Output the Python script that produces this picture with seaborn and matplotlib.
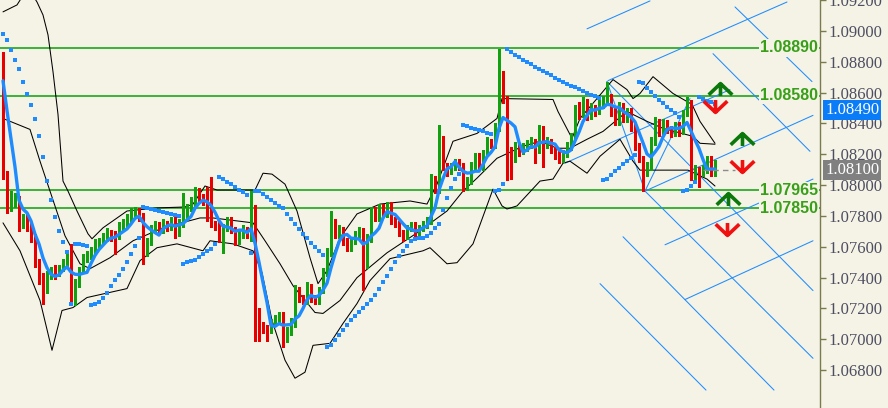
import numpy as np
import pandas as pd
import matplotlib
matplotlib.use('Agg')
import matplotlib.pyplot as plt
import matplotlib.transforms as mtransforms
from matplotlib.path import Path
import seaborn as sns

# ---- candle data (one value per bar) ----
first_open = 1.0881
closes = [
    1.0808, 1.0785, 1.0792, 1.0793, 1.0773, 1.0779, 1.0773, 1.0766, 1.0750, 1.0741,
    1.0734, 1.0741, 1.0745, 1.0743, 1.0746, 1.0749, 1.0752, 1.0728, 1.0736, 1.0745,
    1.0753, 1.0755, 1.0757, 1.0762, 1.0764, 1.0767, 1.0769, 1.0766, 1.0765, 1.0773,
    1.0776, 1.0778, 1.0782, 1.0783, 1.0780, 1.0756, 1.0764, 1.0772, 1.0774, 1.0772,
    1.0776, 1.0773, 1.0777, 1.0769, 1.0776, 1.0780, 1.0785, 1.0788, 1.0796, 1.0792,
    1.0790, 1.0780, 1.0776, 1.0774, 1.0765, 1.0772, 1.0777, 1.0772, 1.0764, 1.0769,
    1.0772, 1.0769, 1.0785, 1.0717, 1.0707, 1.0706, 1.0705, 1.0710, 1.0714, 1.0716,
    1.0701, 1.0706, 1.0711, 1.0732, 1.0726, 1.0725, 1.0734, 1.0726, 1.0725, 1.0732,
    1.0743, 1.0756, 1.0776, 1.0769, 1.0772, 1.0764, 1.0759, 1.0764, 1.0768, 1.0770,
    1.0748, 1.0765, 1.0783, 1.0779, 1.0785, 1.0781, 1.0786, 1.0778, 1.0775, 1.0770,
    1.0766, 1.0772, 1.0774, 1.0769, 1.0772, 1.0775, 1.0777, 1.0805, 1.0797, 1.0830,
    1.0812, 1.0809, 1.0811, 1.0814, 1.0812, 1.0799, 1.0803, 1.0812, 1.0819, 1.0812,
    1.0821, 1.0828, 1.0826, 1.0837, 1.0872, 1.0856, 1.0819, 1.0817, 1.0825, 1.0822,
    1.0824, 1.0826, 1.0828, 1.0823, 1.0836, 1.0826, 1.0828, 1.0823, 1.0820, 1.0817,
    1.0820, 1.0825, 1.0832, 1.0849, 1.0846, 1.0854, 1.0845, 1.0850, 1.0848, 1.0852,
    1.0855, 1.0857, 1.0848, 1.0841, 1.0851, 1.0843, 1.0848, 1.0838, 1.0825, 1.0817,
    1.0809, 1.0812, 1.0828, 1.0841, 1.0835, 1.0840, 1.0836, 1.0834, 1.0839, 1.0835,
    1.0846, 1.0849, 1.0806, 1.0810, 1.0808, 1.0810, 1.0817, 1.0807, 1.0810,
]
highs = [
    1.0886, 1.0809, 1.0796, 1.0795, 1.0793, 1.0781, 1.0781, 1.0776, 1.0768, 1.0752,
    1.0743, 1.0744, 1.0747, 1.0748, 1.0748, 1.0752, 1.0756, 1.0762, 1.0739, 1.0747,
    1.0755, 1.0757, 1.0760, 1.0765, 1.0766, 1.0769, 1.0772, 1.0771, 1.0770, 1.0776,
    1.0778, 1.0781, 1.0785, 1.0786, 1.0785, 1.0782, 1.0766, 1.0774, 1.0777, 1.0776,
    1.0778, 1.0777, 1.0779, 1.0779, 1.0778, 1.0795, 1.0788, 1.0792, 1.0799, 1.0798,
    1.0794, 1.0799, 1.0805, 1.0777, 1.0776, 1.0775, 1.0779, 1.0779, 1.0773, 1.0771,
    1.0774, 1.0773, 1.0796, 1.0787, 1.0720, 1.0711, 1.0709, 1.0713, 1.0716, 1.0718,
    1.0718, 1.0708, 1.0714, 1.0735, 1.0734, 1.0729, 1.0737, 1.0736, 1.0729, 1.0734,
    1.0746, 1.0759, 1.0783, 1.0778, 1.0774, 1.0773, 1.0766, 1.0766, 1.0770, 1.0773,
    1.0772, 1.0768, 1.0786, 1.0786, 1.0788, 1.0788, 1.0789, 1.0789, 1.0779, 1.0777,
    1.0771, 1.0774, 1.0776, 1.0776, 1.0774, 1.0777, 1.0779, 1.0807, 1.0806, 1.0839,
    1.0832, 1.0814, 1.0814, 1.0817, 1.0817, 1.0814, 1.0805, 1.0815, 1.0821, 1.0821,
    1.0823, 1.0831, 1.0830, 1.0840, 1.0888, 1.0874, 1.0858, 1.0825, 1.0828, 1.0827,
    1.0827, 1.0829, 1.0831, 1.0830, 1.0839, 1.0838, 1.0831, 1.0830, 1.0825, 1.0822,
    1.0823, 1.0828, 1.0834, 1.0852, 1.0854, 1.0857, 1.0856, 1.0853, 1.0852, 1.0855,
    1.0858, 1.0867, 1.0859, 1.0850, 1.0854, 1.0853, 1.0850, 1.0850, 1.0840, 1.0827,
    1.0819, 1.0815, 1.0831, 1.0844, 1.0843, 1.0843, 1.0842, 1.0838, 1.0841, 1.0841,
    1.0849, 1.0857, 1.0855, 1.0813, 1.0812, 1.0813, 1.0819, 1.0819, 1.0816,
]
lows = [
    1.0804, 1.0782, 1.0783, 1.0786, 1.0770, 1.0772, 1.0770, 1.0763, 1.0747, 1.0736,
    1.0723, 1.0730, 1.0739, 1.0739, 1.0741, 1.0744, 1.0747, 1.0725, 1.0722, 1.0734,
    1.0743, 1.0750, 1.0752, 1.0755, 1.0760, 1.0762, 1.0764, 1.0764, 1.0755, 1.0765,
    1.0771, 1.0773, 1.0776, 1.0779, 1.0777, 1.0749, 1.0754, 1.0761, 1.0770, 1.0769,
    1.0769, 1.0770, 1.0771, 1.0766, 1.0767, 1.0773, 1.0778, 1.0783, 1.0786, 1.0790,
    1.0787, 1.0777, 1.0773, 1.0771, 1.0763, 1.0756, 1.0770, 1.0769, 1.0761, 1.0762,
    1.0766, 1.0766, 1.0764, 1.0699, 1.0699, 1.0704, 1.0699, 1.0704, 1.0709, 1.0711,
    1.0695, 1.0698, 1.0703, 1.0708, 1.0724, 1.0723, 1.0723, 1.0724, 1.0723, 1.0723,
    1.0730, 1.0741, 1.0754, 1.0766, 1.0766, 1.0761, 1.0757, 1.0757, 1.0762, 1.0766,
    1.0732, 1.0746, 1.0763, 1.0777, 1.0777, 1.0779, 1.0779, 1.0775, 1.0773, 1.0767,
    1.0764, 1.0765, 1.0770, 1.0766, 1.0767, 1.0770, 1.0772, 1.0775, 1.0795, 1.0795,
    1.0810, 1.0806, 1.0807, 1.0810, 1.0810, 1.0796, 1.0797, 1.0801, 1.0810, 1.0810,
    1.0810, 1.0819, 1.0824, 1.0824, 1.0835, 1.0853, 1.0803, 1.0804, 1.0815, 1.0819,
    1.0820, 1.0822, 1.0824, 1.0814, 1.0821, 1.0812, 1.0824, 1.0821, 1.0817, 1.0814,
    1.0815, 1.0818, 1.0823, 1.0830, 1.0843, 1.0844, 1.0842, 1.0843, 1.0845, 1.0846,
    1.0850, 1.0853, 1.0845, 1.0839, 1.0839, 1.0841, 1.0841, 1.0835, 1.0823, 1.0815,
    1.0796, 1.0806, 1.0810, 1.0826, 1.0832, 1.0833, 1.0834, 1.0831, 1.0832, 1.0832,
    1.0833, 1.0845, 1.0803, 1.0804, 1.0799, 1.0806, 1.0808, 1.0806, 1.0806,
]
# closes just before the first visible bar (they feed the moving average)
ma_seed = [1.0882, 1.0884, 1.0883, 1.0881]

# ---- Bollinger band lines (bar index, price) ----
upper_idx = [0, 3.5, 4.75, 7.25, 8.5, 10, 11.25, 12.5, 13.75, 15, 16.25, 18.5, 21.25, 22.25,
             25, 31, 38.5, 45.5, 47.5, 50.5, 53.5, 63, 65, 67.25, 70.5, 73.5, 76.75, 78.75,
             81, 84.25, 88.5, 94.25, 101.75, 106, 108.5, 112.5, 118.5, 123.5, 124.75,
             137.5, 138.75, 142.25, 144.25, 148.5, 152.5, 156, 157.5, 159.25, 162.5,
             167.5, 172.25, 174.25, 178]
upper_px = [1.09123, 1.09168, 1.09219, 1.09239, 1.09187, 1.09103, 1.08974, 1.08735, 1.08458,
            1.08026, 1.07961, 1.07832, 1.07684, 1.07652, 1.07723, 1.07832, 1.07852, 1.07858,
            1.07877, 1.07994, 1.07968, 1.07968, 1.08077, 1.08071, 1.08006, 1.07832, 1.07529,
            1.07361, 1.07445, 1.07658, 1.07813, 1.07877, 1.07897, 1.07877, 1.08006, 1.08284,
            1.08335, 1.08432, 1.08561, 1.08555, 1.08477, 1.08303, 1.08432, 1.08561, 1.08684,
            1.08619, 1.08561, 1.08594, 1.08703, 1.08594, 1.08523, 1.08413, 1.08271]
mid_idx = [0, 6.75, 9.25, 11.75, 15.5, 19.25, 21.75, 26.75, 32.5, 40, 49.25, 52.5, 62.5,
           65.5, 69.25, 72.5, 78, 80, 84.25, 88.5, 96, 103.5, 111, 115, 118.5, 123.5, 130,
           134.25, 138.5, 141.75, 146, 150, 156, 161, 165, 172.5, 174.25, 178]
mid_px = [1.08432, 1.08361, 1.08155, 1.07961, 1.07671, 1.07490, 1.07458, 1.07529, 1.07639,
          1.07723, 1.07787, 1.07787, 1.07755, 1.07639, 1.07490, 1.07348, 1.07174, 1.07168,
          1.07252, 1.07400, 1.07561, 1.07690, 1.07832, 1.07961, 1.08045, 1.08174, 1.08252,
          1.08284, 1.08239, 1.08239, 1.08297, 1.08348, 1.08477, 1.08413, 1.08368, 1.08316,
          1.08271, 1.08265]
lower_idx = [0, 4.25, 9.25, 12.25, 14.75, 17.5, 21, 31, 34.25, 38.5, 43.5, 50, 51.75, 57.5,
             62.5, 64.75, 67.25, 70.5, 73, 75.5, 77.5, 81.75, 85, 88.5, 91.75, 96.75, 105,
             106.75, 111, 113.5, 117.5, 120.5, 122.5, 124.75, 126, 128.5, 134.25, 137.5,
             140, 141.75, 146, 149.25, 154.25, 157.5, 159.25, 171.25, 176, 178]
lower_px = [1.07755, 1.07574, 1.07252, 1.06929, 1.07187, 1.07206, 1.07271, 1.07329, 1.07510,
            1.07594, 1.07619, 1.07574, 1.07639, 1.07619, 1.07574, 1.07432, 1.07123, 1.06865,
            1.06748, 1.06787, 1.06961, 1.06974, 1.07103, 1.07232, 1.07381, 1.07523, 1.07574,
            1.07594, 1.07490, 1.07497, 1.07619, 1.07832, 1.07974, 1.07865, 1.07845, 1.07865,
            1.08026, 1.08039, 1.08142, 1.08155, 1.08077, 1.08187, 1.08297, 1.08155, 1.08097,
            1.08097, 1.08039, 1.07994]

# ---- horizontal levels ----
levels = [1.08890, 1.08580, 1.07965, 1.07850]
level_labels = ['1.08890', '1.08580', '1.07965', '1.07850']

# ---- trend lines: (start bar, start price, end bar, end price) ----
channel_lines = [
    (146, 1.09013, 161.75, 1.09194),
    (151.25, 1.08677, 196, 1.09187),
    (140.5, 1.08142, 181.75, 1.08619),
    (160.5, 1.07961, 202.5, 1.08452),
    (165.5, 1.07613, 202.5, 1.08039),
    (170.5, 1.07258, 202.5, 1.07639),
    (149.25, 1.07361, 175.75, 1.06671),
    (155, 1.07665, 192.75, 1.06671),
    (160.5, 1.07961, 202.5, 1.06877),
    (151, 1.08671, 202.5, 1.07316),
    (177.5, 1.08852, 201.75, 1.08219),
    (183, 1.09155, 202.25, 1.08671),
    (151, 1.08671, 160.5, 1.07961),
    (160.5, 1.07961, 171.75, 1.08561),
]

# ---- signal arrows ----
up_idx = [179.25, 184.75, 181.25]
up_px = [1.08626, 1.08297, 1.07910]
down_idx = [178, 184.75, 181]
down_px = [1.08510, 1.08123, 1.07716]

bid_price = 1.08100
ask_price = 1.08490
yticks = [1.068, 1.070, 1.072, 1.074, 1.076, 1.078, 1.080, 1.082, 1.084, 1.086, 1.088, 1.090, 1.092]

# colours
bg = '#F5F3E6'
bull = '#10A010'
bear = '#E80000'
blue = '#1E8CFF'
lvl_green = '#08A008'

sns.set_theme(style='white')
plt.rcParams['font.family'] = ['DejaVu Sans']

closes = np.array(closes)
highs = np.array(highs)
lows = np.array(lows)
opens = np.r_[first_open, closes[:-1]]
highs = np.maximum(highs, np.maximum(opens, closes))
lows = np.minimum(lows, np.minimum(opens, closes))
idx = np.arange(len(closes))

df = pd.DataFrame({'bar': idx, 'open': opens, 'high': highs, 'low': lows, 'close': closes})

# moving average (5 bars)
ma_all = pd.Series(np.r_[ma_seed, closes]).rolling(5).mean().to_numpy()[len(ma_seed):]
df['ma'] = ma_all


# parabolic SAR
def parabolic_sar(high, low, sar0, ep0, af0, step=0.02, amax=0.2):
    n = len(high)
    out = np.zeros(n)
    down = True
    s, ep, af = sar0, ep0, af0
    for i in range(n):
        if i > 0:
            s = s + af * (ep - s)
            if down:
                s = max(s, high[i - 1], high[max(i - 2, 0)])
                if high[i] > s:
                    down = False
                    s = ep
                    ep = high[i]
                    af = step
                elif low[i] < ep:
                    ep = low[i]
                    af = min(af + step, amax)
            else:
                s = min(s, low[i - 1], low[max(i - 2, 0)])
                if low[i] < s:
                    down = True
                    s = ep
                    ep = low[i]
                    af = step
                elif high[i] > ep:
                    ep = high[i]
                    af = min(af + step, amax)
        out[i] = s
    return out


df['sar'] = parabolic_sar(highs, lows, 1.0898, lows[0], 0.04)

fig = plt.figure(figsize=(8.88, 4.08), dpi=100)
fig.patch.set_facecolor(bg)
ax = fig.add_axes([0, 0, 820 / 888, 1])
ax.set_facecolor(bg)

# levels
for lv in levels:
    ax.axhline(lv, color=lvl_green, lw=1.1, zorder=1)

# trend lines
for x0, y0, x1, y1 in channel_lines:
    ax.plot([x0, x1], [y0, y1], color=blue, lw=0.75, zorder=2)

# bands
for bx, by in [(upper_idx, upper_px), (mid_idx, mid_px), (lower_idx, lower_px)]:
    sns.lineplot(x=bx, y=by, ax=ax, color='black', lw=0.75, estimator=None, sort=False, zorder=3)

# candles
colors = np.where(df['close'] >= df['open'], bull, bear)
ax.vlines(df['bar'], df['low'], df['high'], colors=colors, lw=1.0, zorder=4, antialiased=False)
body = (df['close'] - df['open']).to_numpy()
body = np.where(np.abs(body) < 0.00004, np.sign(body + 1e-9) * 0.00004, body)
ax.bar(df['bar'], body, bottom=df['open'], width=0.62, color=colors, linewidth=0, zorder=5,
       antialiased=False)

# moving average and SAR
sns.lineplot(data=df, x='bar', y='ma', ax=ax, color=blue, lw=2.4, estimator=None, zorder=6)
sns.scatterplot(data=df, x='bar', y='sar', ax=ax, color=blue, marker='s', s=5, linewidth=0, zorder=6)

# current price dashed line
ax.plot([175, 183], [bid_price, bid_price], color='#8C8C8C', lw=1, ls=(0, (4, 3)), zorder=6)

# arrows
up_path = Path([(0, -0.55), (0, 0.5), (-1, -0.45), (0, 0.5), (1, -0.45)],
               [Path.MOVETO, Path.LINETO, Path.MOVETO, Path.LINETO, Path.LINETO])
down_path = Path([(0, 0.55), (0, -0.5), (-1, 0.45), (0, -0.5), (1, 0.45)],
                 [Path.MOVETO, Path.LINETO, Path.MOVETO, Path.LINETO, Path.LINETO])
ax.plot(up_idx, up_px, ls='none', marker=up_path, ms=17, mew=2.6, mec='#0A780A', mfc='none', zorder=7)
ax.plot(down_idx, down_px, ls='none', marker=down_path, ms=17, mew=2.6, mec='#F01010', mfc='none', zorder=7)

# level labels
trans = mtransforms.blended_transform_factory(ax.transAxes, ax.transData)
for lv, lab in zip(levels, level_labels):
    ax.text(818 / 820, lv, lab, transform=trans, ha='right', va='center', fontsize=11.5,
            fontweight='bold', color='#38A018', family=['Liberation Sans', 'DejaVu Sans'],
            bbox=dict(boxstyle='square,pad=0.08', fc=bg, ec='none'), zorder=8)

ax.set_xlim(-0.75, 204.25)
ax.set_ylim(1.065548, 1.091871)
ax.set_xlabel('')
ax.set_ylabel('')
ax.set_xticks([])

ax.yaxis.tick_right()
ax.set_yticks(yticks)
ax.set_yticklabels([f'{t:.5f}' for t in yticks])
ax.tick_params(axis='y', direction='out', length=4, width=1, color='#7A7A4E', pad=2,
               labelsize=12, labelcolor='#4E4E62')
for lab in ax.get_yticklabels():
    lab.set_family(['Liberation Serif', 'DejaVu Serif'])

for side in ['left', 'top', 'bottom']:
    ax.spines[side].set_visible(False)
ax.spines['right'].set_color('#7A7A4E')
ax.spines['right'].set_linewidth(1)

# price tags on the axis
for price, fc in [(ask_price, '#0A7CF8'), (bid_price, '#808080')]:
    ax.text(1.0 + 5 / 820, price, f'{price:.5f}', transform=trans, ha='left', va='center',
            fontsize=12, color='white', family=['Liberation Serif', 'DejaVu Serif'],
            bbox=dict(boxstyle='square,pad=0.12', fc=fc, ec='none'), zorder=9, clip_on=False)

fig.savefig('out.png', dpi=100, facecolor=bg)
